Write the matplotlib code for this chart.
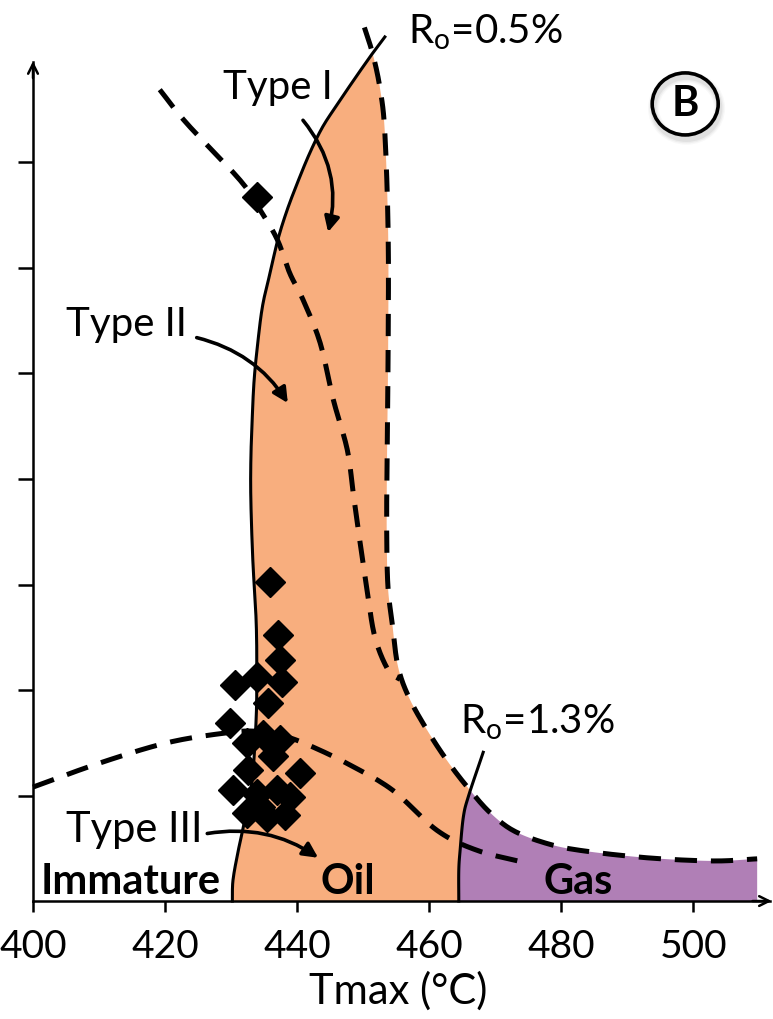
import numpy as np
import matplotlib.pyplot as plt
from matplotlib.patches import Ellipse

plt.rcParams['font.family'] = ['Lato', 'DejaVu Sans']
plt.rcParams['mathtext.fontset'] = 'custom'
plt.rcParams['mathtext.rm'] = 'Lato'
plt.rcParams['lines.scale_dashes'] = False

# boundaries in Tmax (degC) / HI (mg HC/g TOC)
ro05_t = [453.3, 451.5, 448.8, 446.2, 443.9, 442.0, 440.2, 438.5, 437.1, 435.9,
          434.8, 434.1, 433.5, 433.2, 433.0, 433.0, 433.3, 433.8, 433.9, 433.8,
          433.2, 432.1, 431.1, 430.3, 430.2]
ro05_hi = [819, 804, 780, 756, 734, 710, 683, 655, 627, 595,
           565, 532, 494, 456, 418, 380, 323, 266, 219, 172,
           115, 77, 48, 20, 0]

ro13_t = [464.5, 464.5, 464.7, 465.2, 466.0, 468.2]
ro13_hi = [0, 29, 48, 80, 100, 141]

type1_t = [450.2, 451.5, 452.6, 453.3, 453.8, 453.8, 453.6, 453.6, 453.8, 454.4,
           455.3, 457.1, 460.2, 463.2, 466.2, 469.2, 472.7, 477.6, 482.9, 493.0,
           503.0, 509.7]
type1_hi = [828, 802, 769, 728, 633, 525, 399, 336, 295, 264,
            222, 191, 157, 129, 105, 84, 67, 55, 48, 41,
            38, 40]

type2_t = [419.2, 423.3, 431.4, 434.4, 437.0, 438.9, 440.9, 443.5, 445.5, 447.6,
           448.5, 449.2, 450.6, 451.8, 453.8, 455.6]
type2_hi = [769, 737, 683, 655, 627, 595, 570, 529, 475, 428,
            387, 355, 295, 250, 219, 210]

type3_t = [400.0, 410.2, 420.3, 428.8, 433.6, 438.2, 442.4, 448.0, 454.5, 461.2,
           467.3, 474.8]
type3_hi = [108, 131, 150, 159, 161, 156, 146, 129, 105, 67, 48, 36]

# samples
tmax = [433.9, 435.9, 437.1, 437.4, 437.7, 433.9, 430.6, 435.6, 429.8, 432.4,
        437.4, 434.8, 436.4, 440.5, 432.6, 430.3, 433.9, 437.0, 438.9, 435.5,
        438.2, 434.4, 432.4]
hi = [667, 302, 252, 228, 208, 212, 205, 188, 169, 150,
      153, 157, 137, 121, 124, 105, 101, 105, 99, 80,
      82, 89, 83]

xticks = [400, 420, 440, 460, 480, 500]
yticks = [100, 200, 300, 400, 500, 600, 700]

N = 12  # drawing steps between traced nodes


def smooth(xs, ys, n=N):
    # Catmull-Rom pass through the traced nodes, node i lands on index i*n
    p = np.column_stack([xs, ys]).astype(float)
    p = np.vstack([2 * p[0] - p[1], p, 2 * p[-1] - p[-2]])
    t = np.linspace(0, 1, n, endpoint=False)[:, None]
    out = []
    for i in range(1, len(p) - 2):
        p0, p1, p2, p3 = p[i - 1], p[i], p[i + 1], p[i + 2]
        out.append(0.5 * (2 * p1 + (p2 - p0) * t + (2 * p0 - 5 * p1 + 4 * p2 - p3) * t ** 2
                          + (3 * p1 - p0 - 3 * p2 + p3) * t ** 3))
    out.append(p[-2][None, :])
    out = np.vstack(out)
    return out[:, 0], out[:, 1]


s05 = smooth(ro05_t, ro05_hi)
s13 = smooth(ro13_t, ro13_hi)
s1 = smooth(type1_t, type1_hi)
s2 = smooth(type2_t, type2_hi)
s3 = smooth(type3_t, type3_hi)

fig = plt.figure(figsize=(7.73, 10.19), dpi=100)
ax = fig.add_axes([0, 0, 1, 1])
ax.set_xlim(395.0, 512.1)
ax.set_ylim(-111.8, 854.0)

# oil window (orange) and gas window (purple)
j = 14  # node where the type I line meets Ro=1.3%
k = 4   # matching node on Ro=1.3%
oil_x = np.concatenate([s05[0][N:], s13[0][:k * N + 1], s1[0][N:j * N + 1][::-1]])
oil_y = np.concatenate([s05[1][N:], s13[1][:k * N + 1], s1[1][N:j * N + 1][::-1]])
ax.fill(oil_x, oil_y, color='#F8AE7E', lw=0, zorder=1)

gas_x = np.concatenate([s13[0][:k * N + 1], s1[0][j * N:], [type1_t[-1]]])
gas_y = np.concatenate([s13[1][:k * N + 1], s1[1][j * N:], [0]])
ax.fill(gas_x, gas_y, color='#B07FB6', lw=0, zorder=1)

ax.plot(*s05, color='black', lw=2.2, zorder=3)
ax.plot(*s13, color='black', lw=2.2, zorder=3)
for s in [s1, s2, s3]:
    ax.plot(*s, color='black', lw=3.6, dashes=(16, 10), zorder=2)

ax.plot(tmax, hi, 'D', color='black', ms=15.5, zorder=4)

# axes with arrow heads
for s in ['top', 'right']:
    ax.spines[s].set_visible(False)
ax.spines['left'].set_position(('data', 400))
ax.spines['bottom'].set_position(('data', 0))
ax.spines['left'].set_bounds(0, 795)
ax.spines['bottom'].set_bounds(400, 511.7)
for s in ['left', 'bottom']:
    ax.spines[s].set_linewidth(1.8)
    ax.spines[s].set_zorder(5)
head = dict(arrowstyle='->,head_length=0.7,head_width=0.35', lw=1.8,
            color='black', shrinkA=0, shrinkB=0)
ax.annotate('', xy=(400, 796), xytext=(400, 780), arrowprops=head)
ax.annotate('', xy=(511.9, 0), xytext=(509, 0), arrowprops=head)

ax.set_xticks(xticks)
ax.set_xticklabels([str(v) for v in xticks])
ax.set_yticks(yticks)
ax.tick_params(axis='x', direction='out', length=8, width=1.8, labelsize=28, pad=12)
ax.tick_params(axis='y', direction='out', length=11, width=1.8, labelleft=False)
ax.text(455.3, -85.5, 'Tmax (°C)', fontsize=30, ha='center', va='center')

# labels and arrows
ax.text(437.1, 770.6, 'Type I', fontsize=29, ha='center', va='center')
ax.text(414.2, 546, 'Type II', fontsize=29, ha='center', va='center')
ax.text(415.4, 67, 'Type III', fontsize=30, ha='center', va='center')
ax.text(414.8, 18, 'Immature', fontsize=30, fontweight='bold', ha='center', va='center')
ax.text(447.7, 18, 'Oil', fontsize=30, fontweight='bold', ha='center', va='center')
ax.text(482.6, 18, 'Gas', fontsize=30, fontweight='bold', ha='center', va='center')
ax.text(456.8, 813, r'R$_{\mathrm{o}}$=0.5%', fontsize=29, va='baseline')
ax.text(464.7, 159, r'R$_{\mathrm{o}}$=1.3%', fontsize=29, va='baseline')

arrow = dict(arrowstyle='-|>,head_length=0.9,head_width=0.45', lw=2.6, color='black',
             shrinkA=0, shrinkB=0)
ax.annotate('', xy=(444.7, 634), xytext=(440.9, 740),
            arrowprops=dict(arrow, connectionstyle='arc3,rad=-0.25'))
ax.annotate('', xy=(438.6, 472), xytext=(424.8, 534),
            arrowprops=dict(arrow, connectionstyle='arc3,rad=-0.2'))
ax.annotate('', xy=(443.2, 41), xytext=(426.4, 64),
            arrowprops=dict(arrow, connectionstyle='arc3,rad=-0.2'))

# circled panel letter with a soft shadow
for w, a in [(6, 0.05), (4, 0.08), (2, 0.12)]:
    ax.add_patch(Ellipse((499.0, 751.5), 10.0, 58.8, fill=False, lw=2 + w,
                         edgecolor='gray', alpha=a, zorder=2))
ax.add_patch(Ellipse((498.8, 755.5), 10.0, 58.8, fill=False, lw=2.6,
                     edgecolor='black', zorder=3))
ax.text(498.8, 755.5, 'B', fontsize=30, fontweight='bold', ha='center', va='center')

fig.savefig('out.png', dpi=100)
